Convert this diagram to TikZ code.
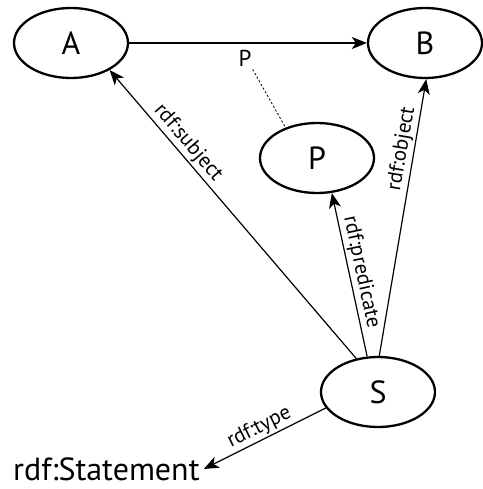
\documentclass[tikz,border=0pt]{standalone}
\usepackage{fontspec}
\setmainfont{PT Sans}
\usetikzlibrary{shapes.geometric,arrows.meta}
\begin{document}
\begin{tikzpicture}[x=1pt,y=-1pt,
  res/.style={draw,ellipse,line width=2.3pt,minimum width=114pt,minimum height=70pt,inner sep=0pt,font=\fontsize{32}{34}\selectfont},
  edge/.style={line width=1.2pt,-{Stealth[length=15pt,width=12pt,inset=4pt]}},
  elab/.style={font=\fontsize{21}{23}\selectfont,inner sep=2pt}]
\useasboundingbox (0,0) rectangle (482,489);
\node[res] (A) at (71,43) {A};
\node[res] (B) at (425,43) {B};
\node[res] (P) at (317,158) {P};
\node[res] (S) at (378,392) {S};
\node[anchor=west,inner sep=0pt,font=\fontsize{32}{34}\selectfont] (stmt) at (13,469) {rdf:Statement};
\node[font=\fontsize{23}{25}\selectfont,inner sep=1pt] (plab) at (245,58) {P};
\draw[edge] (A.east) -- (B.west);
\draw[line width=0.8pt,dash pattern=on 2.2pt off 2pt] (plab.south east) ++(0,2) coordinate (pd) (pd) -- (P.136);
\draw[edge] (S.123) -- node[elab,sloped,above,pos=0.72] {rdf:subject} (A.-35);
\draw[edge] (S.107) -- node[elab,sloped,above,pos=0.5] {rdf:predicate} (P.-67);
\draw[edge] (S.88) -- node[elab,sloped,above,pos=0.74] {rdf:object} (B.-88);
\draw[edge] (S.197) -- node[elab,sloped,above,pos=0.5] {rdf:type} ([xshift=4pt]stmt.east);
\end{tikzpicture}
\end{document}
